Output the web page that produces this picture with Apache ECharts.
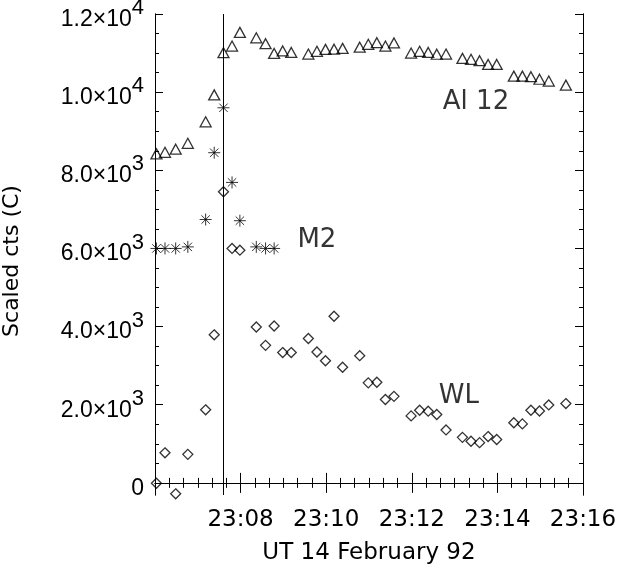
<!DOCTYPE html>
<html><head><meta charset="utf-8">
<script src="https://cdn.jsdelivr.net/npm/echarts@6/dist/echarts.min.js"></script>
<style>html,body{margin:0;padding:0;background:#fff}#c{width:617px;height:569px}</style>
</head><body><div id="c"></div>
<script>
// ---- data (UT 14 February 92) ----
const times = ["23:06:02","23:06:14","23:06:29","23:06:46","23:07:11","23:07:23","23:07:36","23:07:48","23:07:59","23:08:22",
  "23:08:35","23:08:47","23:08:59","23:09:11","23:09:35","23:09:47","23:09:59","23:10:11","23:10:23","23:10:47",
  "23:10:59","23:11:11","23:11:23","23:11:35","23:11:59","23:12:11","23:12:23","23:12:35","23:12:48","23:13:11",
  "23:13:23","23:13:35","23:13:47","23:13:59","23:14:23","23:14:35","23:14:47","23:14:59","23:15:12","23:15:36"];
const al12 = [8420,8460,8540,8690,9240,9930,11010,11180,11530,11390,
  11240,10990,11055,11015,10975,11045,11095,11100,11120,11150,
  11225,11265,11180,11260,11000,11045,11015,10970,10975,10865,
  10840,10805,10710,10710,10410,10410,10395,10330,10285,10180];
const m2 = [6000,6000,6000,6040,6740,8450,9600,7690,6710,6040,6000,6000];
const wl = [-10,770,-280,730,1870,3790,7450,6000,5955,3990,
  3520,4015,3335,3335,3695,3350,3125,4265,2960,3255,
  2560,2575,2135,2215,1715,1860,1835,1750,1355,1165,
  1065,1030,1185,1110,1540,1510,1860,1840,1995,2030];
const flareTime = "23:07:36";
const seriesLabels = ["Al 12", "M2", "WL"];
const labelAt = [["23:13:30", 9750], ["23:09:47", 6210], ["23:13:06", 2220]];
const xTickLabels = ["23:08","23:10","23:12","23:14","23:16"];
const yMajorTicks = [0,2000,4000,6000,8000,10000,12000];
const xRange = ["23:06", "23:16"];
const yRange = [-310, 12000];

// ---- helpers ----
function toMin(s){ const p = s.split(":").map(Number); return (p[0]-23)*60 + p[1] + (p[2]||0)/60; }
function pad(n){ return (n<10?"0":"")+n; }
const yMinorTicks = [];
for (let v = 0; v <= yRange[1]; v += 500) yMinorTicks.push(v);
const FONT = "DejaVu Sans";
const asterisk = "path://M0,5L10,5M5,0L5,10M1.5,1.5L8.5,8.5M8.5,1.5L1.5,8.5";

function yFmt(v){
  if (v === 0) return "{m|0}";
  const e = Math.floor(Math.log10(Math.abs(v)) + 1e-9);
  const m = (v / Math.pow(10, e)).toFixed(1);
  return "{m|" + m + "×10}{e|" + e + "}";
}

const chart = echarts.init(document.getElementById("c"), null, {renderer: "canvas"});
const xMin = toMin(xRange[0]), xMax = toMin(xRange[1]);
const baseX = {
  type: "value", min: xMin, max: xMax, interval: 2,
  axisLine: {show: true, lineStyle: {color: "#000", width: 1}},
  axisTick: {show: true, inside: true, length: 10, lineStyle: {color: "#000", width: 1}},
  minorTick: {show: true, splitNumber: 6, length: 5, lineStyle: {color: "#000", width: 1}},
  splitLine: {show: false}, minorSplitLine: {show: false}
};
const baseY = (pos, major) => ({
  type: "value", position: pos, min: yRange[0], max: yRange[1],
  axisLine: {show: true, onZero: false, lineStyle: {color: "#000", width: 1}},
  axisTick: {show: true, inside: true, length: major ? 8 : 4,
    customValues: major ? yMajorTicks : yMinorTicks, lineStyle: {color: "#000", width: 1}},
  axisLabel: {show: false},
  splitLine: {show: false}
});

const yLeft = baseY("left", true);
yLeft.axisLabel = {
  show: true, customValues: yMajorTicks, margin: 11, formatter: yFmt,
  rich: {
    m: {fontFamily: "Liberation Sans", fontSize: 23, color: "#000", lineHeight: 34, verticalAlign: "bottom"},
    e: {fontFamily: "Liberation Sans", fontSize: 22, color: "#000", lineHeight: 22, verticalAlign: "top"}
  }
};
yLeft.name = "Scaled cts (C)";
yLeft.nameLocation = "middle";
yLeft.nameGap = 132;
yLeft.nameTextStyle = {fontFamily: FONT, fontSize: 22, color: "#000", padding: [0, 13, 0, 0]};

const xBottom = Object.assign({}, baseX, {
  position: "bottom",
  axisLabel: {show: true, margin: 14, fontFamily: FONT, fontSize: 23, color: "#000",
    formatter: v => { const s = "23:" + pad(Math.round(v)); return xTickLabels.indexOf(s) >= 0 ? s : ""; }},
  name: "UT 14 February 92", nameLocation: "middle", nameGap: 47,
  nameTextStyle: {fontFamily: FONT, fontSize: 23, color: "#000"}
});
const xTop = Object.assign({}, baseX, {position: "top", axisLabel: {show: false}});

const annot = labelAt.map((p, i) => [toMin(p[0]), p[1], seriesLabels[i]]);
const mk = {color: "rgba(0,0,0,0)", borderColor: "#000", borderWidth: 1.3};

chart.setOption({
  animation: false,
  backgroundColor: "#fff",
  grid: {left: 155, right: 34, top: 14, bottom: 74, containLabel: false, outerBoundsMode: "none"},
  xAxis: [xBottom, xTop],
  yAxis: [yLeft, baseY("left", false), baseY("right", true), baseY("right", false)],
  series: [
    {
      name: "Al 12", type: "scatter", xAxisIndex: 0, yAxisIndex: 0,
      data: al12.map((v, i) => [toMin(times[i]), v]),
      symbol: "triangle", symbolSize: [11, 10], itemStyle: mk,
      markLine: {
        silent: true, symbol: ["none", "none"], label: {show: false},
        lineStyle: {color: "#000", width: 1, type: "solid"},
        data: [{xAxis: toMin(flareTime)}]
      }
    },
    {
      name: "M2", type: "scatter", xAxisIndex: 0, yAxisIndex: 0,
      data: m2.map((v, i) => [toMin(times[i]), v]),
      symbol: asterisk, symbolSize: 12,
      itemStyle: {color: "rgba(0,0,0,0)", borderColor: "#000", borderWidth: 1}
    },
    {
      name: "WL", type: "scatter", xAxisIndex: 0, yAxisIndex: 0,
      data: wl.map((v, i) => [toMin(times[i]), v]),
      symbol: "diamond", symbolSize: 10, itemStyle: mk
    },
    {
      name: "labels", type: "scatter", xAxisIndex: 0, yAxisIndex: 0, silent: true,
      data: annot, symbolSize: 1,
      itemStyle: {color: "rgba(0,0,0,0)"},
      label: {show: true, position: "inside", formatter: p => p.value[2],
        fontFamily: FONT, fontSize: 26, color: "#000"}
    }
  ]
});
</script>
</body></html>
